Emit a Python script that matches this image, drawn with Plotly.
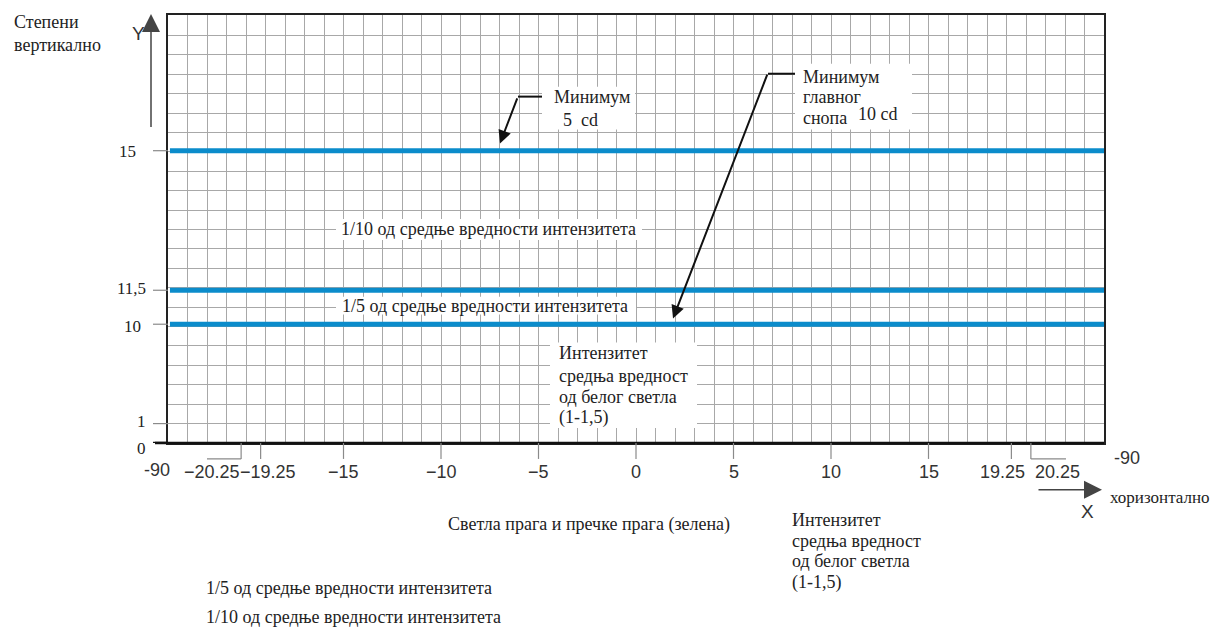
import numpy as np
import plotly.graph_objects as go

# ---------------- data ----------------
x_tick_values = [-20.25, -19.25, -15, -10, -5, 0, 5, 10, 15, 19.25, 20.25]
x_tick_labels = ["\u221220.25", "\u221219.25", "\u221215", "\u221210", "\u22125", "0", "5", "10", "15", "19.25", "20.25"]
y_tick_values = [0, 1, 10, 11.5, 15]
y_tick_labels = ["0", "1", "10", "11,5", "15"]
# schematic (not to scale) vertical axis: degrees -> grid rows of the drawing
y_scale_deg = [0, 1, 10, 11.5, 15]
y_scale_row = [0, 1, 6.12, 7.87, 15.06]
line_levels = [15, 11.5, 10]
line_x_extent = [-23.9, 24]
x_range = [-24, 24]

# ---------------- geometry helpers ----------------
OFF = 8  # page body margin of the browser
W_REF, H_REF = 1220, 628
W, H = W_REF - OFF, H_REF - OFF
L, R, T, B = 168, 1104, 13, 443
CELL = (R - L) / (x_range[1] - x_range[0])
y_top = (B - T) / CELL


def px(x):
    return (x - L) / (R - L)


def py(y):
    return (B - y) / (B - T)


def yrow(deg):
    return float(np.interp(deg, y_scale_deg, y_scale_row))


SERIF = "Liberation Serif"
SANS = "Liberation Sans"
BLUE = "#0b8ccb"
GRID = "#a8a8a8"
FS = 18

fig = go.Figure()

for lvl in line_levels:
    fig.add_trace(go.Scatter(
        x=line_x_extent, y=[yrow(lvl)] * 2, mode="lines",
        line=dict(color=BLUE, width=5), hoverinfo="skip", showlegend=False))

shapes = []
annotations = []


def text(x, y, s, size=FS, family=SERIF, xanchor="left", color="#222"):
    annotations.append(dict(x=px(x), y=py(y), xref="paper", yref="paper", text=s,
                            showarrow=False, xanchor=xanchor, yanchor="middle",
                            borderpad=0,
                            font=dict(family=family, size=size, color=color)))


def box(x0, y0, x1, y1):
    shapes.append(dict(type="rect", xref="paper", yref="paper", x0=px(x0), x1=px(x1),
                       y0=py(y1), y1=py(y0), fillcolor="white", line=dict(width=0),
                       layer="above"))


def seg(x0, y0, x1, y1, color="#111", width=2):
    shapes.append(dict(type="line", xref="paper", yref="paper", x0=px(x0), y0=py(y0),
                       x1=px(x1), y1=py(y1), line=dict(color=color, width=width),
                       layer="above"))


def arrow(tx, ty, sx, sy, color="#111", width=2, size=1.3):
    annotations.append(dict(x=px(tx), y=py(ty), xref="paper", yref="paper", text=" ",
                            showarrow=True, ax=sx - tx, ay=sy - ty, arrowhead=2,
                            arrowsize=size, arrowwidth=width, arrowcolor=color,
                            font=dict(size=1)))


# bottom axis heavier line (extends left to the 0 tick)
seg(155, B, R, B, color="#111", width=2.5)

# x tick marks below axis
for v in x_tick_values:
    shapes.append(dict(type="line", xref="x", yref="paper", x0=v, x1=v,
                       y0=0, y1=-16 / (B - T), line=dict(color="#8a8a8a", width=1.2)))
# leader lines for the +-20.25 labels
for v, end in [(-20.25, -22.0), (20.25, 22.05)]:
    shapes.append(dict(type="line", xref="x", yref="paper", x0=v, x1=end,
                       y0=-16 / (B - T), y1=-16 / (B - T),
                       line=dict(color="#8a8a8a", width=1.2)))

# x tick labels (some shifted beside their leader lines)
label_shift = {-20.25: -1.5, -19.25: 0.38, 19.25: -0.45, 20.25: 1.35}
for v, lab in zip(x_tick_values, x_tick_labels):
    annotations.append(dict(x=v + label_shift.get(v, 0), y=py(472), xref="x", yref="paper",
                            text=lab, showarrow=False, xanchor="center", yanchor="middle",
                            font=dict(family=SANS, size=18, color="#333")))

# y tick marks and labels
y_label_right = {0: 148, 1: 148, 10: 143, 11.5: 148, 15: 138}
y_label_dy = {0: 6, 1: -2, 10: 2, 11.5: -2, 15: 1}
for v, lab in zip(y_tick_values, y_tick_labels):
    shapes.append(dict(type="line", xref="paper", yref="y", x0=px(153), x1=0,
                       y0=yrow(v), y1=yrow(v),
                       line=dict(color="#111" if v == 0 else "#8a8a8a",
                                 width=2.5 if v == 0 else 1.2)))
    ypix = B - yrow(v) * CELL + y_label_dy[v]
    annotations.append(dict(x=px(y_label_right[v]), y=py(ypix), xref="paper", yref="paper",
                            text=lab, showarrow=False, xanchor="right", yanchor="middle",
                            font=dict(family=SERIF, size=17, color="#222")))

# -90 labels
text(143, 470, "-90", size=18, family=SANS, color="#333")
text(1113, 458, "-90", size=18, family=SANS, color="#333")

# axis arrows
arrow(151, 12, 151, 127, color="#444", width=1.5, size=2.4)
text(138, 32, "Y", size=19, family=SANS, xanchor="center", color="#333")
text(13, 20, "Степени", size=FS)
text(13, 43, "вертикално", size=FS)
arrow(1102, 490, 1037, 490, color="#444", width=1.5, size=2.4)
text(1087, 512, "X", size=19, family=SANS, xanchor="center", color="#333")
text(1109, 498, "хоризонтално", size=17)

# callout: Минимум 5 cd
box(542, 85, 635, 128)
text(553, 95, "Минимум", size=FS)
text(562, 118, "5&nbsp;&nbsp;cd", size=FS)
seg(542, 95, 518, 95)
arrow(500, 142, 518, 95, size=1.3)

# callout: Минимум главног снопа 10 cd
box(795, 62, 912, 128)
text(802, 75, "Минимум", size=FS)
text(802, 95, "главног", size=FS)
text(802, 116, "снопа", size=FS)
text(857, 112, "10 cd", size=FS)
seg(795, 72, 768, 72)
arrow(673, 318, 768, 72, size=1.3)

# in-plot labels
box(336, 218, 642, 239)
text(340, 228, "1/10 од средње вредности интензитета", size=FS)
box(336, 296, 636, 314)
text(341, 305, "1/5 од средње вредности интензитета", size=FS)

box(550, 342, 697, 428)
for yy, s in zip([353, 376, 397, 417],
                 ["Интензитет", "средња вредност", "од белог светла", "(1-1,5)"]):
    text(558, yy, s, size=FS)

# texts below the chart
text(447, 525, "Светла прага и пречке прага (зелена)", size=FS)
for yy, s in zip([520, 541, 562, 583],
                 ["Интензитет", "средња вредност", "од белог светла", "(1-1,5)"]):
    text(791, yy, s, size=FS)
text(205, 589, "1/5 од средње вредности интензитета", size=FS)
text(205, 618, "1/10 од средње вредности интензитета", size=FS)

axis_common = dict(showgrid=True, gridcolor=GRID, gridwidth=1, zeroline=False,
                   showticklabels=False, ticks="", showline=True, mirror=True,
                   linecolor="#222", linewidth=2, fixedrange=True)

fig.update_layout(
    width=W, height=H,
    margin=dict(l=L - OFF, r=W_REF - R, t=T - OFF, b=H_REF - B, pad=0),
    paper_bgcolor="white", plot_bgcolor="white",
    xaxis=dict(range=x_range, tick0=0, dtick=1, **axis_common),
    yaxis=dict(range=[0, y_top], tick0=0, dtick=1, **axis_common),
    shapes=shapes, annotations=annotations, showlegend=False,
)

fig.write_html("out.html")
